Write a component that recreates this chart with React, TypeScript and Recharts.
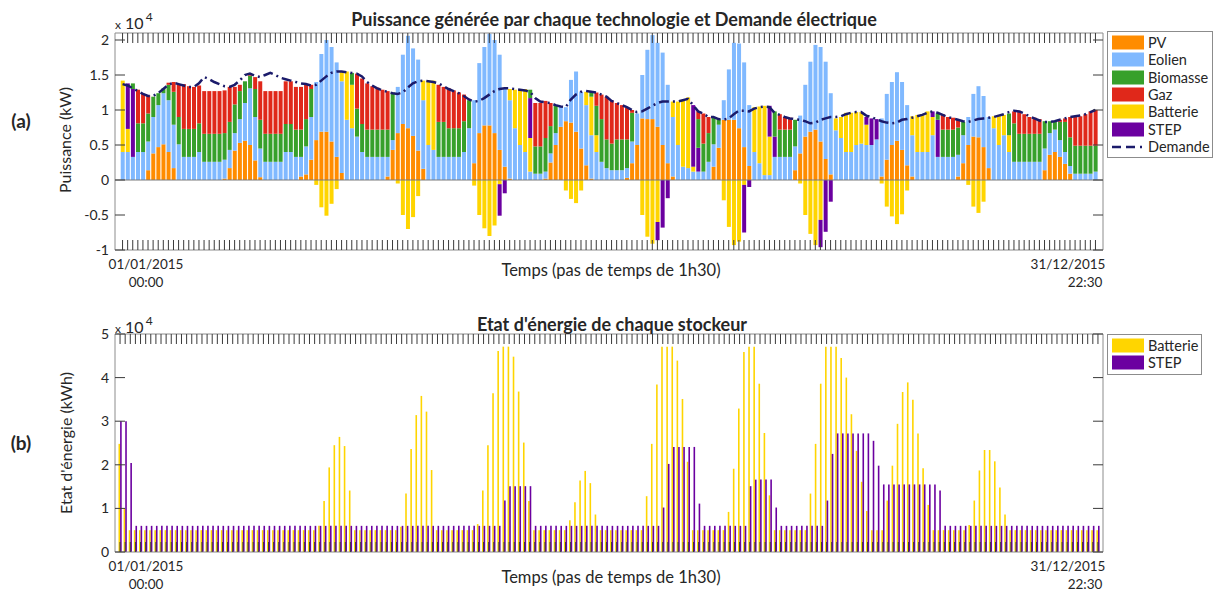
import React from 'react';
import { Bar, ComposedChart, Line, ReferenceLine, XAxis, YAxis } from 'recharts';

// 12 jours types x 16 pas de temps de 1h30 -> 192 pas. Puissances en kW.
const pv = [
  0, 0, 0, 0, 0, 1400, 3800, 4700, 5100, 4000, 1700, 0, 0, 0, 0, 0,
  0, 0, 0, 0, 200, 1700, 4200, 5300, 5600, 5000, 2800, 400, 0, 0, 0, 0,
  0, 0, 0, 500, 800, 2900, 5700, 6900, 6900, 5500, 3300, 1000, 0, 0, 0, 0,
  0, 0, 0, 0, 500, 4300, 6700, 8000, 7400, 6300, 4200, 1600, 0, 0, 0, 0,
  0, 0, 0, 0, 0, 2400, 6700, 7800, 7800, 6700, 4300, 1900, 200, 0, 0, 0,
  0, 0, 0, 200, 2500, 5000, 7600, 8400, 8200, 6900, 4500, 2100, 200, 0, 0, 0,
  0, 0, 0, 300, 2400, 5000, 8800, 8700, 8700, 7600, 5000, 2400, 500, 0, 0, 0,
  0, 0, 0, 0, 1900, 4600, 8600, 8600, 8600, 7400, 4700, 2000, 0, 0, 0, 0,
  0, 0, 0, 0, 1400, 3800, 6200, 6900, 7200, 5500, 3000, 800, 0, 0, 0, 0,
  0, 0, 0, 0, 0, 500, 2900, 5000, 5600, 4300, 2100, 500, 0, 0, 0, 0,
  0, 0, 0, 0, 500, 2400, 5000, 6200, 6100, 4700, 1700, 0, 0, 0, 0, 0,
  0, 0, 0, 0, 0, 1400, 3600, 4000, 3300, 2300, 900, 0, 0, 0, 0, 0,
];

const eolien = [
  4000, 4000, 3300, 4000, 4000, 4100, 5200, 6000, 7300, 7400, 6200, 5100, 3300, 3300, 3300, 4000,
  2600, 2600, 2600, 2600, 2700, 2600, 2500, 3400, 5400, 8100, 6200, 4100, 2600, 2600, 2600, 2600,
  4000, 4000, 3300, 2800, 4000, 6100, 8300, 11100, 13100, 13500, 13500, 13100, 8600, 7400, 6200, 4000,
  3300, 3300, 3300, 3300, 2800, 1400, 6600, 9900, 13200, 12500, 13000, 9800, 5000, 4300, 3300, 3300,
  3300, 3300, 3300, 4000, 7400, 9000, 10000, 11200, 13100, 13300, 13600, 11200, 11200, 7400, 5000, 4000,
  1200, 900, 900, 1000, 1300, 1700, 2900, 2000, 6100, 8600, 8100, 8600, 6200, 4000, 2600, 1700,
  1400, 1400, 1400, 1400, 3100, 4500, 6200, 9900, 12000, 12000, 13200, 11200, 8500, 5000, 1900, 1700,
  1200, 1200, 1200, 2600, 3200, 3300, 2800, 7200, 11000, 12100, 12100, 8700, 4000, 2400, 700, 700,
  3300, 3300, 3300, 3300, 3400, 5400, 7400, 10000, 12100, 13500, 13900, 11600, 7100, 6000, 4000, 4000,
  5000, 5200, 5000, 5000, 5800, 8300, 9400, 9000, 9800, 9700, 8600, 5900, 4000, 4000, 4000, 6400,
  3300, 3300, 3300, 3300, 3100, 4000, 4000, 6100, 7300, 7300, 7300, 7400, 5000, 6400, 4000, 2600,
  2600, 2600, 2600, 2600, 2600, 3100, 3100, 3200, 2400, 1700, 1100, 900, 900, 900, 900, 1200,
];

// positif = décharge, négatif = charge
const batterie = [
  10200, 3300, 0, 0, 0, 0, 0, 0, 0, 0, 0, 0, 0, 0, 0, 0,
  0, 0, 0, 0, 0, 0, 0, 0, 0, 0, 0, 0, 0, 0, 0, 0,
  0, 0, 0, 0, 0, 0, -700, -3900, -5100, -3400, -1300, 1400, 6900, 6200, 0, 0,
  0, 0, 0, 0, 0, 0, -500, -5000, -7000, -5300, -2300, 2800, 9200, 9900, 0, 0,
  0, 0, 0, 0, 0, -800, -5000, -6900, -8000, -6500, -600, 0, 1600, 5500, 8000, 9000,
  4800, 0, 0, 0, 0, 0, 0, -1500, -2700, -3300, -1500, 1900, 5500, 2400, 0, 0,
  0, 0, 0, 0, 0, 0, -5000, -8100, -9100, -6000, 0, 0, 2200, 6200, 9500, 10100,
  700, 0, 0, 0, 0, 0, -2900, -6700, -9300, -8800, -700, 0, 6400, 8100, 9900, 5500,
  0, 0, 0, 0, 0, -500, -5000, -7700, -9300, -5700, 0, 0, 1700, 3000, 5600, 5600,
  4700, 4500, 2900, 0, 0, -500, -3800, -5200, -6300, -4900, -1500, 2700, 5300, 5400, 5800, 2600,
  0, 0, 0, 0, 0, 0, -700, -3800, -4700, -3100, 0, 1700, 4300, 2900, 2400, 0,
  0, 0, 0, 0, 0, 0, 0, 0, 0, 0, 0, 0, 0, 0, 0, 0,
];

const step = [
  0, 6500, 9700, 0, 0, 0, 0, 0, 0, 0, 0, 0, 0, 0, 0, 0,
  0, 0, 0, 0, 0, 0, 0, 0, 0, 0, 0, 0, 0, 0, 0, 0,
  0, 0, 0, 0, 0, 0, 0, 0, 0, 0, 0, 0, 0, 0, 0, 0,
  0, 0, 0, 0, 0, 0, 0, 0, 0, 0, 0, 0, 0, 0, 0, 0,
  0, 0, 0, 0, 0, 0, 0, 0, 0, 0, -4500, -1900, 0, 0, 0, 0,
  5700, 0, 0, 0, 0, 0, 0, 0, 0, 0, 0, 0, 0, 0, 0, 0,
  0, 0, 0, 0, 0, 0, 0, 0, 0, -2600, -6800, -2600, 0, 0, 0, 0,
  8800, 3400, 0, 0, 0, 0, 0, 0, 0, 0, -6800, -1000, 0, 0, 0, 4400,
  2900, 0, 0, 0, 0, 0, 0, 0, 0, -3900, -7400, -3100, 0, 0, 0, 0,
  0, 0, 1100, 3800, 2900, 0, 0, 0, 0, 0, 0, 0, 0, 0, 0, 800,
  5300, 0, 0, 0, 0, 0, 0, 0, 0, 0, 0, 0, 0, 0, 0, 0,
  0, 0, 0, 0, 0, 0, 0, 0, 0, 0, 0, 0, 0, 0, 0, 0,
];

const biomasse = [
  0, 0, 800, 4100, 4100, 4000, 2900, 1700, 700, 2200, 4700, 3900, 4000, 4000, 4000, 4100,
  4000, 4000, 4000, 4000, 3800, 4000, 4100, 4000, 3100, 1800, 4000, 4100, 4000, 4000, 4000, 4000,
  4000, 4000, 3900, 3900, 3900, 4000, 0, 0, 0, 0, 0, 0, 0, 1700, 4000, 4000,
  3900, 3900, 3900, 3900, 3900, 6800, 0, 0, 0, 0, 0, 0, 0, 0, 5000, 5000,
  4100, 4100, 4100, 4400, 4000, 0, 0, 0, 0, 0, 0, 0, 0, 0, 0, 0,
  1200, 3900, 3900, 4800, 3900, 4000, 0, 0, 0, 0, 0, 0, 700, 4200, 6100, 4100,
  3800, 4400, 4400, 4100, 4100, 0, 0, 0, 0, 0, 0, 0, 0, 0, 0, 0,
  0, 4100, 4000, 4100, 3900, 800, 0, 0, 0, 0, 0, 0, 0, 0, 0, 0,
  3600, 3900, 3900, 3900, 3800, 0, 0, 0, 0, 0, 0, 0, 0, 0, 0, 0,
  0, 0, 0, 0, 0, 0, 0, 0, 0, 0, 0, 0, 0, 0, 0, 0,
  900, 3900, 3900, 3900, 3900, 1900, 0, 0, 0, 0, 0, 0, 0, 0, 3100, 5500,
  4000, 4000, 4000, 4000, 4000, 3900, 1700, 1100, 2600, 4300, 4100, 4000, 4000, 4000, 4000, 3700,
];

const gaz = [
  0, 0, 0, 4800, 4200, 2600, 0, 0, 0, 300, 1400, 4600, 6400, 6100, 6000, 5400,
  6100, 6100, 6100, 6100, 6100, 5000, 2500, 900, 0, 300, 1700, 5500, 6100, 6100, 6100, 6100,
  6100, 6100, 6100, 6100, 4900, 600, 0, 0, 0, 0, 0, 0, 0, 0, 5000, 6500,
  6600, 6200, 6000, 5700, 5500, 0, 0, 0, 0, 0, 0, 0, 0, 0, 5300, 5000,
  5700, 5400, 5100, 3800, 0, 0, 0, 0, 0, 0, 0, 0, 0, 0, 0, 0,
  0, 6200, 6200, 5300, 3300, 0, 0, 0, 0, 0, 0, 0, 0, 1900, 3500, 6100,
  6100, 5200, 4900, 4500, 400, 0, 0, 0, 0, 0, 0, 0, 0, 0, 0, 0,
  0, 1100, 4300, 2300, 0, 0, 0, 0, 0, 0, 0, 0, 0, 0, 0, 0,
  0, 2200, 1800, 1700, 0, 0, 0, 0, 0, 0, 0, 0, 0, 0, 0, 0,
  0, 0, 0, 0, 0, 0, 0, 0, 0, 0, 0, 0, 0, 0, 0, 0,
  0, 2200, 1800, 1700, 1200, 0, 0, 0, 0, 0, 0, 0, 0, 0, 0, 1700,
  3300, 2800, 2400, 2300, 2100, 0, 0, 0, 300, 500, 2900, 4200, 4200, 4500, 4900, 5100,
];

const demande = [
  13700, 13500, 13100, 12700, 12300, 12000, 12000, 12400, 13000, 13600, 13900, 13700, 13500, 13300, 13300, 13800,
  14700, 14400, 14000, 13700, 13400, 13300, 13600, 14200, 15000, 15200, 14900, 14700, 15000, 15300, 15000, 14600,
  14400, 14200, 14000, 13800, 13700, 13500, 13600, 14200, 14800, 15300, 15500, 15500, 15400, 15300, 15200, 14800,
  14000, 13500, 13100, 12800, 12600, 12400, 12300, 12500, 13200, 13800, 14100, 14200, 14100, 14000, 13800, 13400,
  13000, 12700, 12400, 12000, 11500, 11200, 11300, 11700, 12200, 12700, 13000, 13100, 13100, 13000, 12900, 12800,
  12600, 11700, 11200, 11100, 11000, 10700, 10500, 10400, 11500, 12200, 12600, 12700, 12600, 12500, 12200, 11900,
  11300, 11000, 10700, 10400, 10000, 9700, 9800, 10200, 10600, 11000, 11200, 11200, 11200, 11200, 11400, 11600,
  10700, 9800, 9500, 9000, 9000, 8700, 8600, 8800, 9400, 9900, 9900, 9800, 10200, 10400, 10500, 10400,
  9600, 9300, 9000, 8800, 8700, 8600, 8400, 8100, 8200, 8600, 8800, 9000, 9000, 9100, 9400, 9600,
  9700, 9700, 9200, 9000, 8700, 8400, 8200, 8100, 8200, 8600, 8700, 8900, 9100, 9300, 9600, 9800,
  9600, 9300, 9000, 8800, 8600, 8400, 8300, 8500, 8700, 8800, 8900, 9000, 9200, 9400, 9700, 9900,
  9800, 9500, 9100, 8800, 8500, 8300, 8300, 8400, 8600, 8800, 9000, 9100, 9200, 9400, 9700, 10000,
];

// Etat d'énergie des stockeurs (kWh)
const socBatterie = [
  24800, 10000, 5000, 5000, 5000, 5000, 5000, 5000, 5000, 5000, 5000, 5000, 5000, 5000, 5000, 5000,
  5000, 5000, 5000, 5000, 5000, 5000, 5000, 5000, 5000, 5000, 5000, 5000, 5000, 5000, 5000, 5000,
  5000, 5000, 5000, 5000, 5000, 5000, 5000, 6000, 11700, 19400, 24500, 26400, 24300, 14100, 5000, 5000,
  5000, 5000, 5000, 5000, 5000, 5000, 5000, 5800, 13400, 23600, 31400, 35800, 32200, 18800, 5000, 5000,
  5000, 5000, 5000, 5000, 5000, 5000, 6400, 14100, 24500, 36400, 46100, 47100, 47100, 44800, 36800, 25100,
  11700, 5000, 5000, 5000, 5000, 5000, 5000, 5000, 7300, 11400, 16400, 18600, 15800, 8600, 5000, 5000,
  5000, 5000, 5000, 5000, 5000, 5000, 5000, 12800, 24800, 38400, 47100, 47100, 47100, 43900, 35100, 20700,
  5000, 5000, 5000, 5000, 5000, 5000, 5000, 9200, 19100, 32900, 45900, 47100, 47100, 38600, 27300, 13000,
  5000, 5000, 5000, 5000, 5000, 5000, 5000, 13400, 24800, 38600, 47100, 47100, 47100, 44500, 40000, 31600,
  23200, 16100, 9400, 5000, 5000, 5000, 11800, 19800, 29400, 36700, 38900, 34900, 27200, 19200, 10800, 5000,
  5000, 5000, 5000, 5000, 5000, 5000, 6200, 11800, 18700, 23400, 23400, 20800, 14800, 8600, 5000, 5000,
  5000, 5000, 5000, 5000, 5000, 5000, 5000, 5000, 5000, 5000, 5000, 5000, 5000, 5000, 5000, 5000,
];

const socStep = [
  30000, 30000, 20400, 6000, 6000, 6000, 6000, 6000, 6000, 6000, 6000, 6000, 6000, 6000, 6000, 6000,
  6000, 6000, 6000, 6000, 6000, 6000, 6000, 6000, 6000, 6000, 6000, 6000, 6000, 6000, 6000, 6000,
  6000, 6000, 6000, 6000, 6000, 6000, 6000, 6000, 6000, 6000, 6000, 6000, 6000, 6000, 6000, 6000,
  6000, 6000, 6000, 6000, 6000, 6000, 6000, 6000, 6000, 6000, 6000, 6000, 6000, 6000, 6000, 6000,
  6000, 6000, 6000, 6000, 6000, 6000, 6000, 6000, 6000, 6000, 6000, 11800, 15100, 15100, 15100, 15100,
  15100, 6000, 6000, 6000, 6000, 6000, 6000, 6000, 6000, 6000, 6000, 6000, 6000, 6000, 6000, 6000,
  6000, 6000, 6000, 6000, 6000, 6000, 6000, 6000, 6000, 6000, 10200, 20200, 24100, 24100, 24100, 24100,
  24100, 11100, 6000, 6000, 6000, 6000, 6000, 6000, 6000, 6000, 6000, 15100, 16600, 16600, 16600, 16600,
  10200, 6000, 6000, 6000, 6000, 6000, 6000, 6000, 6000, 6000, 11800, 22500, 27200, 27200, 27200, 27200,
  27200, 27200, 27200, 25500, 19800, 15500, 15500, 15500, 15500, 15500, 15500, 15500, 15500, 15500, 15500, 15500,
  14100, 6000, 6000, 6000, 6000, 6000, 6000, 6000, 6000, 6000, 6000, 6000, 6000, 6000, 6000, 6000,
  6000, 6000, 6000, 6000, 6000, 6000, 6000, 6000, 6000, 6000, 6000, 6000, 6000, 6000, 6000, 6000,
];

const powerTicks = [-10000, -5000, 0, 5000, 10000, 15000, 20000];
const socTicks = [0, 10000, 20000, 30000, 40000, 50000];

const FONT = 'Lato, "Open Sans", sans-serif';
const INK = '#262626';
const AXIS = '#8c8c8c';
const TICK = '#3a3a3a';
const TL = 10; // longueur des graduations (vers l'intérieur)

const C = {
  pv: '#FF8C00',
  eolien: '#80B9FF',
  biomasse: '#37A02B',
  gaz: '#E0281A',
  batterie: '#FFD500',
  step: '#6B00A0',
  demande: '#1B1B6B',
};

const powerData = pv.map((v, i) => ({
  t: i + 1,
  pv: v,
  eolien: eolien[i],
  batterie: batterie[i],
  step: step[i],
  biomasse: biomasse[i],
  gaz: gaz[i],
  demande: demande[i],
}));

const socData = socBatterie.map((v, i) => ({ t: i + 1, batterie: v, step: socStep[i] }));

const fmt = (v: number) => String(v / 10000);

// graduations MATLAB : tournées vers l'intérieur du cadre
const TickUp = (p: any) => (
  <line x1={p.x} x2={p.x} y1={p.y} y2={p.y - TL} stroke={TICK} strokeWidth={1} />
);
const TickDown = (p: any) => (
  <line x1={p.x} x2={p.x} y1={p.y} y2={p.y + TL} stroke={TICK} strokeWidth={1} />
);
const TickLeft = (p: any) => (
  <g>
    <line x1={p.x} x2={p.x + TL} y1={p.y} y2={p.y} stroke={TICK} strokeWidth={1} />
    <text x={p.x - 6} y={p.y} dy="0.36em" textAnchor="end" fontSize={14} fill={INK}>
      {fmt(p.payload.value)}
    </text>
  </g>
);
const TickRight = (p: any) => (
  <line x1={p.x} x2={p.x - TL} y1={p.y} y2={p.y} stroke={TICK} strokeWidth={1} />
);

function T({
  x, y, size = 16, bold = false, rotate = 0, children,
}: { x: number; y: number; size?: number; bold?: boolean; rotate?: number; children: React.ReactNode }) {
  return (
    <div
      style={{
        position: 'absolute',
        left: x,
        top: y,
        transform: `translate(-50%, -50%)${rotate ? ` rotate(${rotate}deg)` : ''}`,
        whiteSpace: 'nowrap',
        fontSize: size,
        fontWeight: bold ? 700 : 400,
        color: INK,
        lineHeight: 1,
      }}
    >
      {children}
    </div>
  );
}

function Exp({ x, y }: { x: number; y: number }) {
  return (
    <div style={{ position: 'absolute', left: x, top: y, fontSize: 16, color: INK, lineHeight: 1, whiteSpace: 'nowrap' }}>
      <span style={{ fontSize: 12 }}>x</span> 10
      <span style={{ fontSize: 12, position: 'relative', top: -8, marginLeft: 2 }}>4</span>
    </div>
  );
}

type Item = { label: string; color: string; dash?: boolean };

function LegendBox({ left, top, width, items }: { left: number; top: number; width: number; items: Item[] }) {
  return (
    <div style={{ position: 'absolute', left, top, width, border: `1px solid ${AXIS}`, background: '#fff', padding: '2px 0' }}>
      {items.map((it) => (
        <div key={it.label} style={{ display: 'flex', alignItems: 'center', height: 17.3 }}>
          <svg width={38} height={17} style={{ flex: 'none' }}>
            {it.dash ? (
              <line x1={4} y1={9} x2={37} y2={9} stroke={it.color} strokeWidth={2.5} strokeDasharray="9 5 9 5 2 10" />
            ) : (
              <rect x={4} y={1.5} width={32} height={14} fill={it.color} />
            )}
          </svg>
          <span style={{ marginLeft: 2, fontSize: 14.5, color: INK }}>{it.label}</span>
        </div>
      ))}
    </div>
  );
}

export default function App() {
  return (
    <div style={{ position: 'absolute', left: 0, top: 0, width: 1215, height: 592, background: '#fff', fontFamily: FONT }}>
      <div style={{ position: 'absolute', left: 0, top: 0 }}>
        <ComposedChart
          width={1215}
          height={262}
          data={powerData}
          stackOffset="sign"
          barCategoryGap="14%"
          margin={{ top: 32, right: 111, bottom: 11, left: 75 }}
        >
          <XAxis xAxisId="b" dataKey="t" interval={0} tick={TickUp} tickLine={false} tickSize={0} tickMargin={0} axisLine={{ stroke: AXIS }} height={1} padding={{ left: 5, right: 5 }} />
          <XAxis xAxisId="t" dataKey="t" orientation="top" interval={0} tick={TickDown} tickLine={false} tickSize={0} tickMargin={0} axisLine={{ stroke: AXIS }} height={1} padding={{ left: 5, right: 5 }} />
          <YAxis yAxisId="l" type="number" domain={[-10000, 21000]} ticks={powerTicks} interval={0} allowDataOverflow width={40} tick={TickLeft} tickLine={false} tickSize={0} tickMargin={0} axisLine={{ stroke: AXIS }} />
          <YAxis yAxisId="r" orientation="right" type="number" domain={[-10000, 21000]} ticks={powerTicks} interval={0} allowDataOverflow width={1} tick={TickRight} tickLine={false} tickSize={0} tickMargin={0} axisLine={{ stroke: AXIS }} />
          <Bar xAxisId="b" yAxisId="l" dataKey="pv" stackId="p" fill={C.pv} isAnimationActive={false} />
          <Bar xAxisId="b" yAxisId="l" dataKey="eolien" stackId="p" fill={C.eolien} isAnimationActive={false} />
          <Bar xAxisId="b" yAxisId="l" dataKey="batterie" stackId="p" fill={C.batterie} isAnimationActive={false} />
          <Bar xAxisId="b" yAxisId="l" dataKey="step" stackId="p" fill={C.step} isAnimationActive={false} />
          <Bar xAxisId="b" yAxisId="l" dataKey="biomasse" stackId="p" fill={C.biomasse} isAnimationActive={false} />
          <Bar xAxisId="b" yAxisId="l" dataKey="gaz" stackId="p" fill={C.gaz} isAnimationActive={false} />
          <ReferenceLine xAxisId="b" yAxisId="l" y={0} stroke="#7a7a7a" />
          <Line xAxisId="t" yAxisId="r" dataKey="demande" type="linear" stroke={C.demande} strokeWidth={2.5} strokeDasharray="10 4 2 4" dot={false} activeDot={false} isAnimationActive={false} />
        </ComposedChart>
      </div>

      <div style={{ position: 'absolute', left: 0, top: 300 }}>
        <ComposedChart
          width={1215}
          height={262}
          data={socData}
          barSize={1.6}
          barGap={0}
          margin={{ top: 33, right: 111, bottom: 9, left: 75 }}
        >
          <XAxis xAxisId="b" dataKey="t" interval={0} tick={TickUp} tickLine={false} tickSize={0} tickMargin={0} axisLine={{ stroke: AXIS }} height={1} padding={{ left: 2.5, right: 2.5 }} />
          <XAxis xAxisId="t" dataKey="t" orientation="top" interval={0} tick={TickDown} tickLine={false} tickSize={0} tickMargin={0} axisLine={{ stroke: AXIS }} height={1} padding={{ left: 2.5, right: 2.5 }} />
          <YAxis yAxisId="l" type="number" domain={[0, 50000]} ticks={socTicks} interval={0} allowDataOverflow width={40} tick={TickLeft} tickLine={false} tickSize={0} tickMargin={0} axisLine={{ stroke: AXIS }} />
          <YAxis yAxisId="r" orientation="right" type="number" domain={[0, 50000]} ticks={socTicks} interval={0} allowDataOverflow width={1} tick={TickRight} tickLine={false} tickSize={0} tickMargin={0} axisLine={{ stroke: AXIS }} />
          <Bar xAxisId="b" yAxisId="l" dataKey="batterie" fill={C.batterie} isAnimationActive={false} />
          <Bar xAxisId="b" yAxisId="l" dataKey="step" fill={C.step} isAnimationActive={false} />
          <Line xAxisId="t" yAxisId="r" dataKey="step" stroke="none" dot={false} activeDot={false} isAnimationActive={false} />
        </ComposedChart>
      </div>

      {/* panneau (a) */}
      <T x={614} y={19} size={18} bold>Puissance générée par chaque technologie et Demande électrique</T>
      <Exp x={115} y={15} />
      <T x={21} y={120} size={19} bold>(a)</T>
      <T x={65} y={140} rotate={-90}>Puissance (kW)</T>
      <T x={611} y={270} size={16.5}>Temps (pas de temps de 1h30)</T>
      <T x={146} y={265} size={13.5}>01/01/2015</T>
      <T x={146} y={283} size={13.5}>00:00</T>
      <T x={1068} y={265} size={13.5}>31/12/2015</T>
      <T x={1085} y={283} size={13.5}>22:30</T>
      <LegendBox
        left={1107}
        top={31}
        width={104}
        items={[
          { label: 'PV', color: C.pv },
          { label: 'Eolien', color: C.eolien },
          { label: 'Biomasse', color: C.biomasse },
          { label: 'Gaz', color: C.gaz },
          { label: 'Batterie', color: C.batterie },
          { label: 'STEP', color: C.step },
          { label: 'Demande', color: C.demande, dash: true },
        ]}
      />

      {/* panneau (b) */}
      <T x={612} y={324} size={18} bold>Etat d'énergie de chaque stockeur</T>
      <Exp x={115} y={319} />
      <T x={21} y={442} size={19} bold>(b)</T>
      <T x={66} y={443} rotate={-90}>Etat d'énergie (kWh)</T>
      <T x={611} y={577} size={16.5}>Temps (pas de temps de 1h30)</T>
      <T x={146} y={567} size={13.5}>01/01/2015</T>
      <T x={146} y={585} size={13.5}>00:00</T>
      <T x={1068} y={567} size={13.5}>31/12/2015</T>
      <T x={1085} y={585} size={13.5}>22:30</T>
      <LegendBox
        left={1107}
        top={334}
        width={93}
        items={[
          { label: 'Batterie', color: C.batterie },
          { label: 'STEP', color: C.step },
        ]}
      />
    </div>
  );
}
